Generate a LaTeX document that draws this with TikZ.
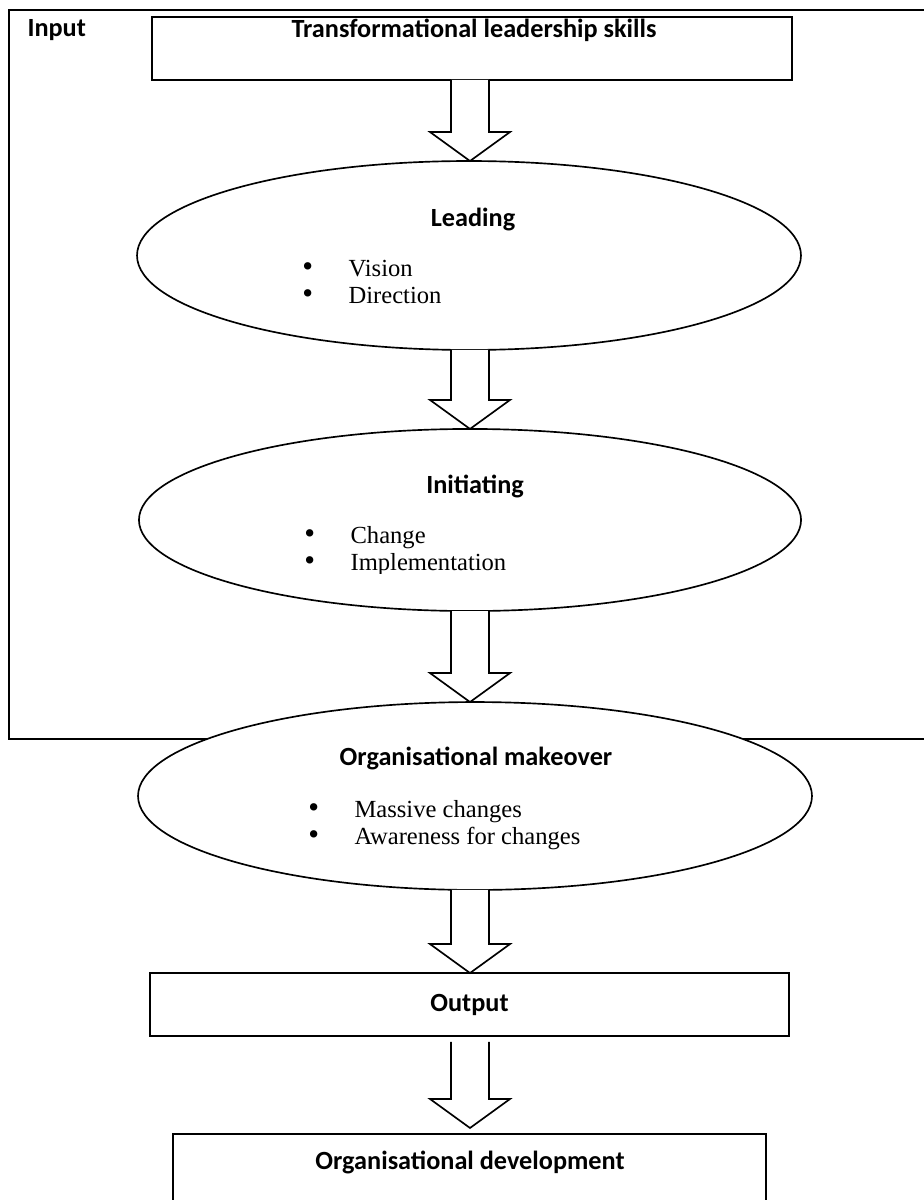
\documentclass[tikz,border=0pt]{standalone}
\usepackage{fontspec}
\usepackage{graphicx}
\setmainfont{Liberation Serif}
\newfontfamily\calibri{Carlito}
\usetikzlibrary{positioning,shapes.geometric,calc}

\tikzset{
  frameline/.style={line width=1.1pt},
  box/.style={draw,line width=1pt,inner sep=0pt,outer sep=0pt},
  oval/.style={ellipse,draw,fill=white,line width=0.8pt,inner sep=0pt,outer sep=0pt},
  heading/.style={font=\calibri\bfseries\fontsize{12.6}{14}\selectfont,inner sep=1pt},
  bullets/.style={font=\fontsize{11.8}{13}\selectfont,inner sep=0pt,anchor=west},
  fatarrow/.style={draw,line width=0.8pt,fill=white,line join=miter}
}

% hollow block arrow on the common axis, from node #2 down to node #3, #1 = gap
\newcommand{\hollowarrow}[3][0]{%
  \draw[fatarrow] ($(axis |- #2.south)+(-19,#1)$) -- ($(axis |- #3.north)+(-19,-29-#1)$)
    -- ($(axis |- #3.north)+(-40,-29-#1)$) -- ($(axis |- #3.north)+(0,-#1)$)
    -- ($(axis |- #3.north)+(40,-29-#1)$) -- ($(axis |- #3.north)+(19,-29-#1)$)
    -- ($(axis |- #2.south)+(19,#1)$);}

\newcommand{\dotitem}{\raisebox{0.05ex}{\scalebox{1.25}{\textbullet}}}
\newcommand{\itemlist}[2]{%
  \begin{tabular}{@{}l@{\hspace{17pt}}l@{}}\dotitem & #1\\ \dotitem & #2\end{tabular}}

\begin{document}
\begin{tikzpicture}[x=0.48pt,y=-0.48pt,line cap=butt,line join=miter]
  \useasboundingbox (0,0) rectangle (923,1200);
  \coordinate (axis) at (470,0);

  % input frame
  \draw[frameline] (9,10) rectangle (935,739);
  \node[heading,anchor=west] (input) at (25,30) {Input};

  % top box
  \node[box,minimum width=307.2pt,minimum height=30.2pt] (skills) at (472,48.5) {};
  \node[heading] (skillstxt) at (474,30) {Transformational leadership skills};

  % leading
  \node[oval,minimum width=318.7pt,minimum height=90.7pt] (leading) at (469,255.5) {};
  \node[heading] (leadingtxt) at (473,220) {Leading};
  \node[bullets] (leadinglist) at (302,285) {\itemlist{Vision}{Direction}};

  % initiating
  \node[oval,minimum width=317.8pt,minimum height=87.4pt] (initiating) at (470,520) {};
  \node[heading] (initiatingtxt) at (475,486) {Initiating};
  \begin{scope}
    \clip (0,400) rectangle (923,573);
    \node[bullets] (initiatinglist) at (304,552) {\itemlist{Change}{Implementation}};
  \end{scope}

  % makeover, drawn over the frame line
  \node[oval,minimum width=323.5pt,minimum height=90.2pt] (makeover) at (475,796) {};
  \node[heading] (makeovertxt) at (476,758) {Organisational makeover};
  \node[bullets] (makeoverlist) at (308,826) {\itemlist{Massive changes}{Awareness for changes}};

  % output and development
  \node[box,minimum width=306.7pt,minimum height=30.2pt,heading] (output) at (469.5,1004.5) {Output};
  \node[box,minimum width=284.6pt,minimum height=50.9pt] (develop) at (469.5,1187) {};
  \node[heading] (developtxt) at (470,1162) {Organisational development};

  \hollowarrow{skills}{leading}
  \hollowarrow{leading}{initiating}
  \hollowarrow{initiating}{makeover}
  \hollowarrow{makeover}{output}
  \hollowarrow[6]{output}{develop}
\end{tikzpicture}
\end{document}
